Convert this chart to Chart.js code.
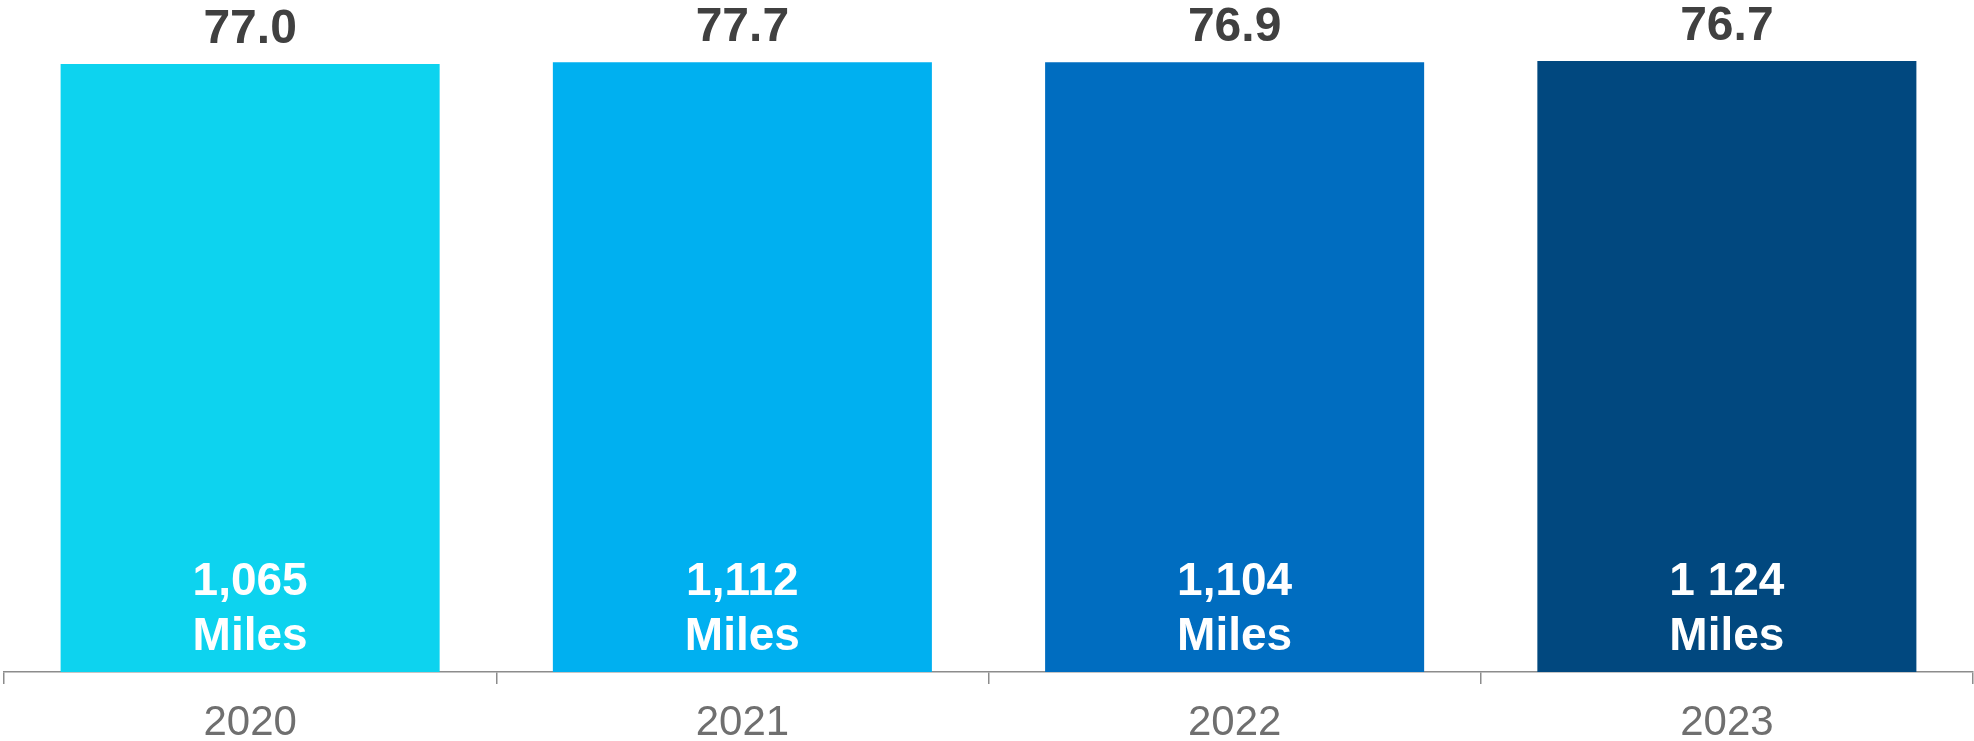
<!DOCTYPE html>
<html>
<head>
<meta charset="utf-8">
<script src="https://cdn.jsdelivr.net/npm/chart.js@4"></script>
<style>
    html, body { margin: 0; padding: 0; background: #fff; }
    #wrap { width: 1974px; height: 741px; position: relative; }
</style>
</head>
<body>
<div id="wrap"><canvas id="milesChart"></canvas></div>
<script>
// data
const years = ['2020', '2021', '2022', '2023'];
const barHeights = [99.5, 99.8, 99.8, 100];
const topLabels = ['77.0', '77.7', '76.9', '76.7'];
const mileLabels = ['1,065', '1,112', '1,104', '1 124'];
const barColors = ['#0DD3EF', '#00B0F0', '#006DC0', '#01487F'];

const FONT = '"Liberation Sans", Arial, sans-serif';

const barLabels = {
    id: 'barLabels',
    afterDatasetsDraw(chart) {
        const ctx = chart.ctx;
        const meta = chart.getDatasetMeta(0);
        ctx.save();
        ctx.textAlign = 'center';
        ctx.textBaseline = 'alphabetic';
        meta.data.forEach(function(bar, i) {
            ctx.fillStyle = '#404040';
            ctx.font = 'bold 48px ' + FONT;
            ctx.fillText(topLabels[i], bar.x, bar.y - 21);

            ctx.fillStyle = '#ffffff';
            ctx.font = 'bold 46px ' + FONT;
            ctx.fillText(mileLabels[i], bar.x, bar.base - 77);
            ctx.fillText('Miles', bar.x, bar.base - 22);
        });
        ctx.restore();
    }
};

new Chart(document.getElementById('milesChart').getContext('2d'), {
    type: 'bar',
    data: {
        labels: years,
        datasets: [{
            data: barHeights,
            backgroundColor: barColors,
            borderWidth: 0,
            categoryPercentage: 1,
            barPercentage: 0.77
        }]
    },
    options: {
        responsive: true,
        maintainAspectRatio: false,
        animation: false,
        layout: { padding: { top: 61, left: 4, right: 1, bottom: -21 } },
        plugins: { legend: { display: false }, tooltip: { enabled: false } },
        scales: {
            y: { display: false, min: 0, max: 100 },
            x: {
                grid: { display: true, drawOnChartArea: false, offset: true, tickLength: 12, color: '#8c8c8c', lineWidth: 1.5 },
                border: { display: true, color: '#8c8c8c', width: 1.5 },
                ticks: { color: '#6f6f6f', padding: 18, font: { family: FONT, size: 42, lineHeight: 1 } }
            }
        }
    },
    plugins: [barLabels]
});
</script>
</body>
</html>
